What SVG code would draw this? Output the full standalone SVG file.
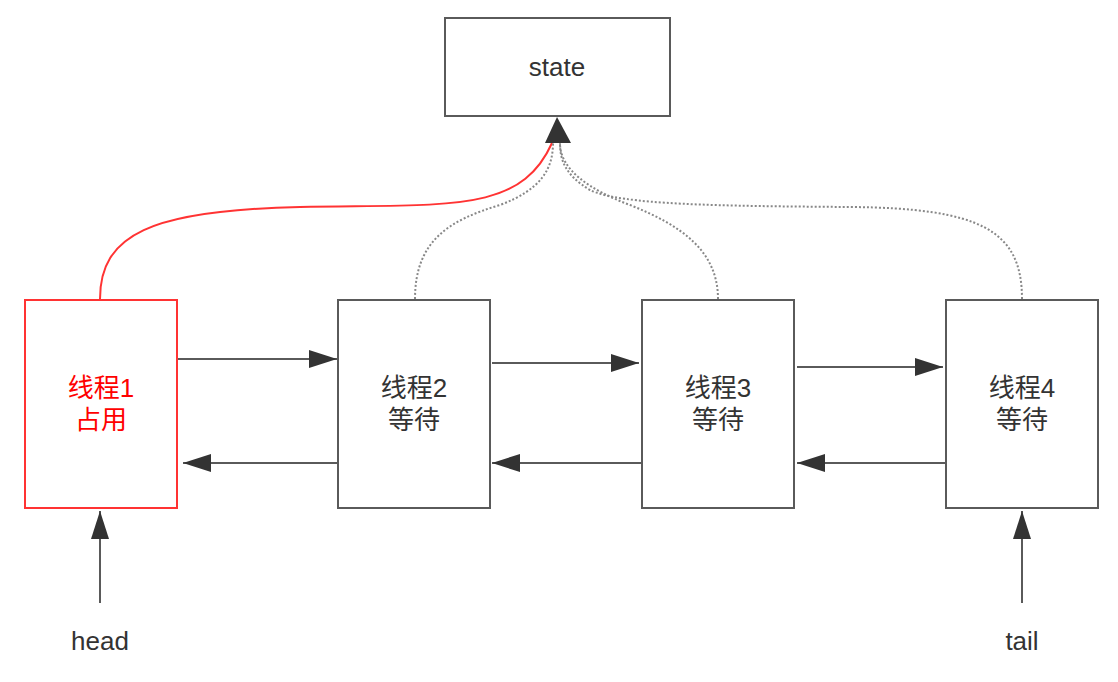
<svg xmlns="http://www.w3.org/2000/svg" width="1118" height="682" viewBox="0 0 1118 682">
<style>
.box{fill:#fff;stroke:#5a5a5a;stroke-width:2}
.red{fill:#fff;stroke:#ff3333;stroke-width:2}
.lbl{font-family:"Liberation Sans","Noto Sans CJK SC",sans-serif;font-size:26px;fill:#333;text-anchor:middle}
.lblr{fill:#ff0000}
.lat{font-family:"Liberation Sans",sans-serif;font-size:26px;fill:#333;text-anchor:middle}
.ln{fill:none;stroke:#5a5a5a;stroke-width:2}
.dot{fill:none;stroke:#888;stroke-width:2;stroke-dasharray:2 2}
.rc{fill:none;stroke:#ff3333;stroke-width:2}
.head{fill:#333}
</style>
<defs>
<marker id="arr" markerUnits="userSpaceOnUse" markerWidth="28" markerHeight="18" refX="28" refY="9" orient="auto" viewBox="0 0 28 18">
<path d="M0,0 L28,9 L0,18 Z" fill="#333"/>
</marker>
</defs>
<rect width="1118" height="682" fill="#fff"/>
<g id="connectors">
<path class="rc" d="M100,299 C100,235 150,210 300,207 S 520,214 552,143"/>
<path class="dot" d="M415,299 C415,240 450,220 500,205 C540,190 553,170 553,143"/>
<path class="dot" d="M718,299 C718,250 680,225 630,205 C590,190 560,170 560,143"/>
<path class="dot" d="M1022,299 C1022,230 980,208 850,207 C720,206 620,205 590,190 C565,175 560,160 560,143"/>
<polygon class="head" points="557,117 545,143 571,143"/>
<line class="ln" x1="178" y1="359" x2="337" y2="359" marker-end="url(#arr)"/>
<line class="ln" x1="337" y1="463" x2="183" y2="463" marker-end="url(#arr)"/>
<line class="ln" x1="492" y1="363" x2="639" y2="363" marker-end="url(#arr)"/>
<line class="ln" x1="645" y1="463" x2="492" y2="463" marker-end="url(#arr)"/>
<line class="ln" x1="797" y1="367" x2="943" y2="367" marker-end="url(#arr)"/>
<line class="ln" x1="946" y1="463" x2="797" y2="463" marker-end="url(#arr)"/>
<line class="ln" x1="100" y1="603" x2="100" y2="511" marker-end="url(#arr)"/>
<line class="ln" x1="1022" y1="603" x2="1022" y2="511" marker-end="url(#arr)"/>
</g>
<g id="state">
<rect class="box" x="445" y="18" width="225" height="98"/>
<text class="lat" x="557" y="76">state</text>
</g>
<g id="t1">
<rect class="red" x="25" y="300" width="152" height="208"/>
<text class="lbl lblr" x="101" y="397">线程1</text>
<text class="lbl lblr" x="101" y="429">占用</text>
</g>
<g id="t2">
<rect class="box" x="338" y="300" width="152" height="208"/>
<text class="lbl" x="414" y="397">线程2</text>
<text class="lbl" x="414" y="429">等待</text>
</g>
<g id="t3">
<rect class="box" x="642" y="300" width="152" height="208"/>
<text class="lbl" x="718" y="397">线程3</text>
<text class="lbl" x="718" y="429">等待</text>
</g>
<g id="t4">
<rect class="box" x="946" y="300" width="152" height="208"/>
<text class="lbl" x="1022" y="397">线程4</text>
<text class="lbl" x="1022" y="429">等待</text>
</g>
<g id="head">
<text class="lat" x="100" y="650">head</text>
</g>
<g id="tail">
<text class="lat" x="1022" y="650">tail</text>
</g>
</svg>
